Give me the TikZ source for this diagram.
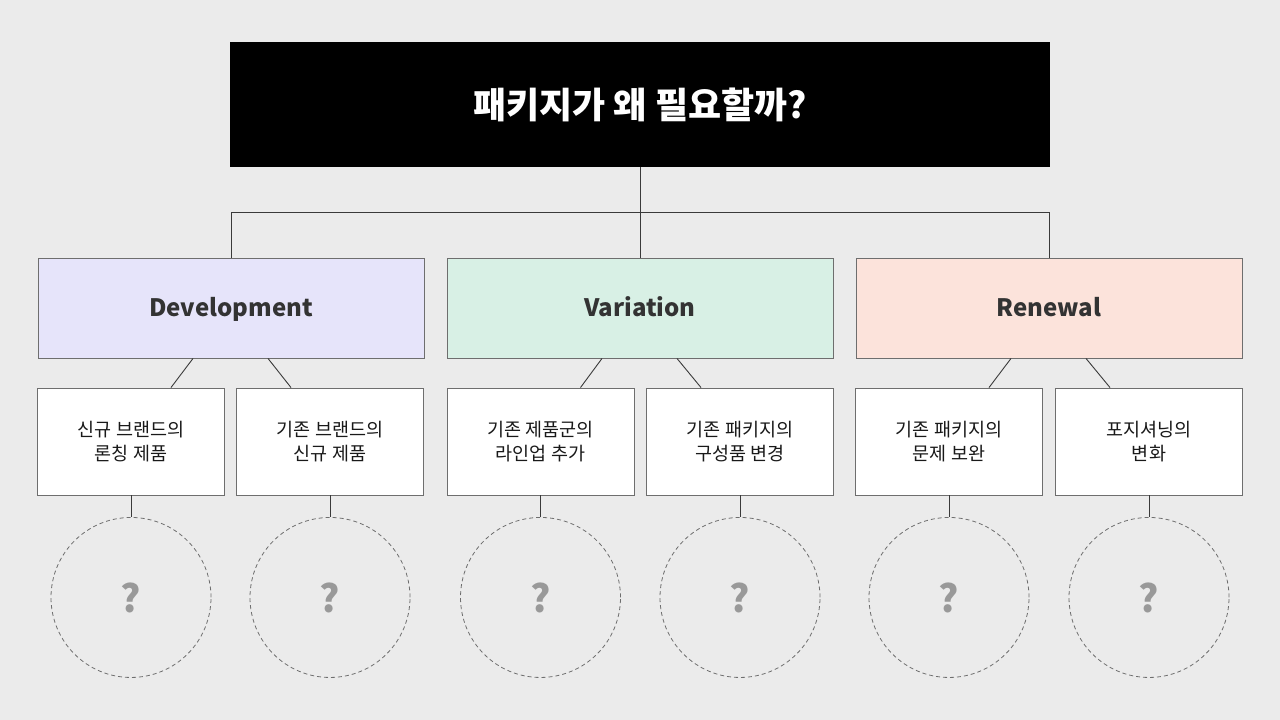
\documentclass[tikz,border=0pt]{standalone}
\usepackage{fontspec}
\setmainfont{Noto Sans CJK KR}
\usetikzlibrary{calc}
\definecolor{bgcol}{HTML}{EBEBEB}
\definecolor{devcol}{HTML}{E6E4FA}
\definecolor{varcol}{HTML}{D8F0E5}
\definecolor{rencol}{HTML}{FCE3DB}
\definecolor{edgecol}{HTML}{6E6E6E}
\definecolor{linecol}{HTML}{3A3A3A}
\definecolor{qcol}{HTML}{999999}
\tikzset{
  titlebox/.style={fill=black, text=white, minimum width=820pt, minimum height=125pt,
    font=\fontsize{36}{42}\selectfont\bfseries, inner sep=0pt},
  catbox/.style={draw=edgecol, line width=0.9pt, minimum width=386pt, minimum height=100pt,
    text height=16pt, text depth=0pt,
    text=black!80, font=\fontsize{24}{28}\selectfont\bfseries, inner sep=0pt},
  subbox/.style={draw=edgecol, line width=0.9pt, fill=white, minimum width=187pt, minimum height=107pt,
    align=center, text=black!90, font=\fontsize{18.5}{24.5}\selectfont, inner sep=0pt},
  qcircle/.style={circle, draw=edgecol, dashed, dash pattern=on 4pt off 3pt, line width=0.8pt,
    minimum size=160pt, text=qcol, font=\fontsize{38}{42}\selectfont\bfseries, inner sep=0pt},
  link/.style={draw=linecol, line width=0.9pt},
}
\begin{document}
\begin{tikzpicture}[x=1pt,y=-1pt]
  \fill[bgcol] (0,0) rectangle (1280,720);
  \node[titlebox] (title) at (640,104.5) {패키지가 왜 필요할까?};
  % categories
  \node[catbox, fill=devcol] (dev) at (231,308) {Development};
  \node[catbox, fill=varcol] (var) at (640,308) {Variation};
  \node[catbox, fill=rencol] (ren) at (1049,308) {Renewal};
  \draw[link] (title.south) -- (var.north);
  \draw[link] (dev.north) -- ++(0,-45.5) -| (ren.north);
  % sub boxes
  \node[subbox] (d1) at (131,441.5) {신규 브랜드의\\론칭 제품};
  \node[subbox] (d2) at (330,441.5) {기존 브랜드의\\신규 제품};
  \node[subbox] (v1) at (540.5,441.5) {기존 제품군의\\라인업 추가};
  \node[subbox] (v2) at (740,441.5) {기존 패키지의\\구성품 변경};
  \node[subbox] (r1) at (949,441.5) {기존 패키지의\\문제 보완};
  \node[subbox] (r2) at (1149,441.5) {포지셔닝의\\변화};
  \foreach \c/\a/\b in {dev/d1/d2, var/v1/v2, ren/r1/r2} {
    \draw[link] ($(\c.south)+(-38,0)$) -- ($(\a.north)+(40,0)$);
    \draw[link] ($(\c.south)+(37,0)$) -- ($(\b.north)+(-39,0)$);
  }
  % circles
  \foreach \s in {d1,d2,v1,v2,r1,r2} {
    \node[qcircle] (q\s) at ($(\s.south)+(0,102)$) {?};
    \draw[link] (\s.south) -- (q\s.north);
  }
\end{tikzpicture}
\end{document}
